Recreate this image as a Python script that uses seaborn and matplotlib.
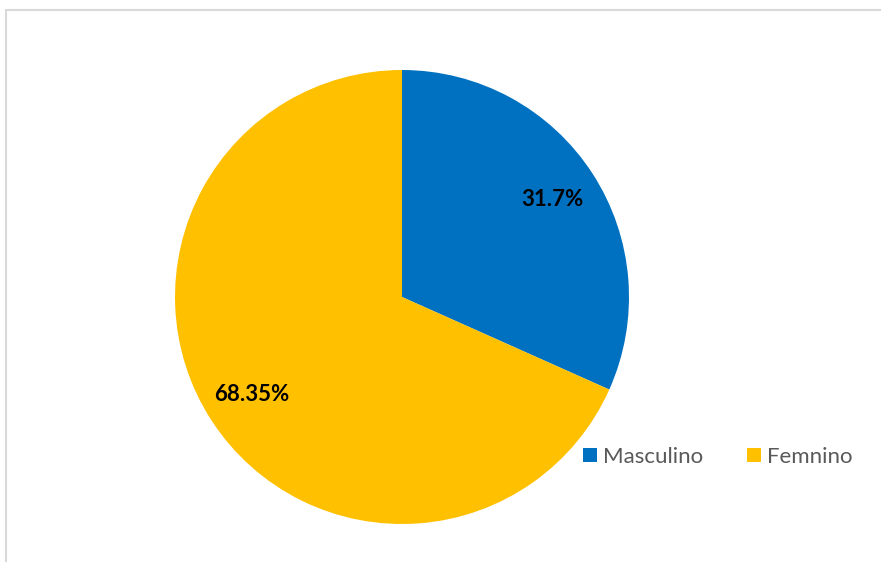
import matplotlib
matplotlib.use("Agg")
import matplotlib.pyplot as plt
import seaborn as sns
import numpy as np
from matplotlib.patches import Patch
from matplotlib.lines import Line2D

categories = ["Masculino", "Femnino"]
values = [31.7, 68.35]
value_labels = ["31.7%", "68.35%"]
colors = ["#0070C0", "#FFC000"]

sns.set_theme(style="white")
plt.rcParams["font.family"] = ["Lato", "DejaVu Sans"]

W, H = 881, 562
fig = plt.figure(figsize=(W / 100, H / 100), dpi=100)
fig.patch.set_facecolor("white")

cx, cy, R = 402, 297, 227
ax = fig.add_axes([0, 0, 1, 1])
wedges, _ = ax.pie(values, colors=colors, startangle=90, counterclock=False,
                   radius=1, center=(0, 0), wedgeprops=dict(linewidth=0))
ax.set_xlim(-cx / R, (W - cx) / R)
ax.set_ylim(-(H - cy) / R, cy / R)
ax.set_aspect("equal")
ax.axis("off")

for w, lab in zip(wedges, value_labels):
    mid = np.deg2rad((w.theta1 + w.theta2) / 2)
    ax.text(0.79 * np.cos(mid), 0.79 * np.sin(mid), lab, ha="center", va="center",
            fontsize=16, fontweight="bold", color="black")

# frame lines (top and left border)
fig.add_artist(Line2D([6 / W, 6 / W], [0, 1 - 10 / H], transform=fig.transFigure,
                      color="#d9d9d9", linewidth=1.5))
fig.add_artist(Line2D([6 / W, 1], [1 - 10 / H, 1 - 10 / H], transform=fig.transFigure,
                      color="#d9d9d9", linewidth=1.5))

handles = [Patch(facecolor=c, edgecolor="none") for c in colors]
leg = fig.legend(handles, categories, loc="center left",
                 bbox_to_anchor=(583 / W, 1 - 457 / H), ncol=2, frameon=False,
                 fontsize=16, handlelength=0.62, handleheight=0.62,
                 handletextpad=0.3, columnspacing=1.95, borderaxespad=0,
                 borderpad=0)
for t in leg.get_texts():
    t.set_color("#595959")

fig.savefig("out.png", dpi=100)
